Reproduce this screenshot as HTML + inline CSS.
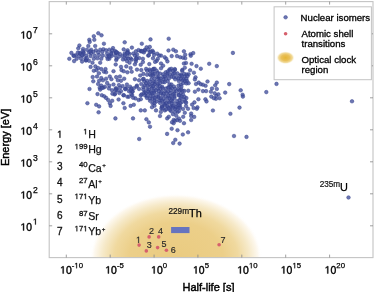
<!DOCTYPE html>
<html><head><meta charset="utf-8"><style>
html,body{margin:0;padding:0;background:#fff;width:375px;height:292px;overflow:hidden}
svg{display:block;font-family:"Liberation Sans",sans-serif;filter:blur(0.45px)}
.tl{font-size:10.8px;fill:#000;stroke:#000;stroke-width:0.38px}
.sup{font-size:7.8px;fill:#000;stroke:#000;stroke-width:0.25px}
.lt{font-size:10.4px;fill:#111;stroke:#111;stroke-width:0.3px}
.lc{font-size:6.2px;fill:#111;stroke:#111;stroke-width:0.25px}
.le{font-size:10.6px;fill:#111;stroke:#111;stroke-width:0.25px}
.ls{font-size:8.2px;fill:#111;stroke:#111;stroke-width:0.2px}
.ms{font-size:8.2px;fill:#111;stroke:#111;stroke-width:0.2px}
.mt{font-size:10.9px;fill:#000;stroke:#000;stroke-width:0.25px}
.rn{font-size:9px;fill:#333}
.lg{font-size:9.65px;fill:#000;stroke:#000;stroke-width:0.3px}
.ax{font-size:11px;fill:#000;stroke:#000;stroke-width:0.45px}
</style></head><body>
<svg width="375" height="292" viewBox="0 0 375 292">
<defs>
<radialGradient id="yg" cx="176" cy="257.6" r="1" gradientUnits="userSpaceOnUse" gradientTransform="translate(176 257.6) scale(86 64) translate(-176 -257.6)">
<stop offset="0" stop-color="#eacb80"/><stop offset="0.55" stop-color="#eccf89"/><stop offset="0.72" stop-color="#f0d99f"/><stop offset="0.85" stop-color="#f6e9c8"/><stop offset="0.95" stop-color="#fdf8ee"/><stop offset="1" stop-color="#fff" stop-opacity="0"/>
</radialGradient>
<radialGradient id="lgy"><stop offset="0" stop-color="#e5b536"/><stop offset="0.45" stop-color="#e9c05a"/><stop offset="0.75" stop-color="#f2dc9e"/><stop offset="1" stop-color="#fff" stop-opacity="0"/></radialGradient>
<clipPath id="pc"><rect x="49.2" y="1.6" width="323.8" height="256.0"/></clipPath>
</defs>
<g clip-path="url(#pc)"><ellipse cx="176" cy="257.6" rx="86" ry="64" fill="url(#yg)"/></g>
<rect x="171.1" y="227" width="18.4" height="6.1" fill="#6674bf"/>
<g fill="#44519e" fill-opacity="0.78" stroke="#333f8c" stroke-opacity="0.8" stroke-width="0.6"><circle cx="193.2" cy="53.1" r="1.8"/><circle cx="190.5" cy="54.2" r="1.8"/><circle cx="185.2" cy="54.7" r="1.8"/><circle cx="232.9" cy="52.9" r="1.8"/><circle cx="185.2" cy="58.2" r="1.8"/><circle cx="190.8" cy="55.8" r="1.8"/><circle cx="186" cy="63" r="1.8"/><circle cx="191.6" cy="63.8" r="1.8"/><circle cx="209.2" cy="63.8" r="1.8"/><circle cx="229.2" cy="84.1" r="1.8"/><circle cx="225.2" cy="92.6" r="1.8"/><circle cx="216.4" cy="95.8" r="1.8"/><circle cx="219.6" cy="98.2" r="1.8"/><circle cx="240.7" cy="90.3" r="1.8"/><circle cx="266.3" cy="92.1" r="1.8"/><circle cx="276.5" cy="83.9" r="1.8"/><circle cx="242.6" cy="94.8" r="1.8"/><circle cx="242.9" cy="96.6" r="1.8"/><circle cx="239.5" cy="107.6" r="1.8"/><circle cx="352" cy="101.3" r="1.8"/><circle cx="246.5" cy="136.9" r="1.8"/><circle cx="230.4" cy="113.8" r="1.8"/><circle cx="215.9" cy="98.8" r="1.8"/><circle cx="234" cy="136" r="1.8"/><circle cx="188.1" cy="132.3" r="1.8"/><circle cx="182.8" cy="134.5" r="1.8"/><circle cx="177.5" cy="130.2" r="1.8"/><circle cx="171.7" cy="128.7" r="1.8"/><circle cx="175.3" cy="139.8" r="1.8"/><circle cx="173.2" cy="143" r="1.8"/><circle cx="179.6" cy="143.6" r="1.8"/><circle cx="150" cy="126.7" r="1.8"/><circle cx="139.2" cy="139" r="1.8"/><circle cx="167.1" cy="133.9" r="1.8"/><circle cx="348.5" cy="197.5" r="1.8"/><circle cx="98.3" cy="33.2" r="1.8"/><circle cx="101.5" cy="35.3" r="1.8"/><circle cx="93.8" cy="36.2" r="1.8"/><circle cx="94.3" cy="39.8" r="1.8"/><circle cx="89.3" cy="39.8" r="1.8"/><circle cx="89.7" cy="41.9" r="1.8"/><circle cx="103.9" cy="43.7" r="1.8"/><circle cx="79.4" cy="45.5" r="1.8"/><circle cx="88.3" cy="46" r="1.8"/><circle cx="95.2" cy="46" r="1.8"/><circle cx="78.3" cy="48.3" r="1.8"/><circle cx="83.1" cy="49" r="1.8"/><circle cx="86.9" cy="49.7" r="1.8"/><circle cx="91.1" cy="49.7" r="1.8"/><circle cx="95.9" cy="50.3" r="1.8"/><circle cx="100.2" cy="49.7" r="1.8"/><circle cx="103.4" cy="49.2" r="1.8"/><circle cx="71.4" cy="52.9" r="1.8"/><circle cx="79.9" cy="52.9" r="1.8"/><circle cx="83.7" cy="52.4" r="1.8"/><circle cx="89" cy="52.4" r="1.8"/><circle cx="93.3" cy="51.9" r="1.8"/><circle cx="98.1" cy="52.4" r="1.8"/><circle cx="102.3" cy="51.9" r="1.8"/><circle cx="73.5" cy="55.6" r="1.8"/><circle cx="78.9" cy="56.1" r="1.8"/><circle cx="82.6" cy="55.6" r="1.8"/><circle cx="86.3" cy="55.6" r="1.8"/><circle cx="90.6" cy="56.1" r="1.8"/><circle cx="94.9" cy="55.6" r="1.8"/><circle cx="99.1" cy="55.1" r="1.8"/><circle cx="102.9" cy="55.6" r="1.8"/><circle cx="69.3" cy="58.8" r="1.8"/><circle cx="76.7" cy="58.8" r="1.8"/><circle cx="81" cy="58.6" r="1.8"/><circle cx="85.3" cy="58.8" r="1.8"/><circle cx="93.8" cy="58.8" r="1.8"/><circle cx="97.5" cy="58.3" r="1.8"/><circle cx="101.3" cy="58.8" r="1.8"/><circle cx="124.7" cy="42.3" r="1.8"/><circle cx="141.8" cy="43.7" r="1.8"/><circle cx="113" cy="48.1" r="1.8"/><circle cx="131.9" cy="47.6" r="1.8"/><circle cx="123.7" cy="49.4" r="1.8"/><circle cx="127.6" cy="50.3" r="1.8"/><circle cx="106.1" cy="50.3" r="1.8"/><circle cx="109.3" cy="49.7" r="1.8"/><circle cx="135.9" cy="51.3" r="1.8"/><circle cx="140.7" cy="51.3" r="1.8"/><circle cx="143.9" cy="52.4" r="1.8"/><circle cx="107.1" cy="53.5" r="1.8"/><circle cx="111.4" cy="52.9" r="1.8"/><circle cx="115.7" cy="52.4" r="1.8"/><circle cx="119.9" cy="54" r="1.8"/><circle cx="124.7" cy="53.5" r="1.8"/><circle cx="129.5" cy="54" r="1.8"/><circle cx="133.3" cy="53.5" r="1.8"/><circle cx="137" cy="54.5" r="1.8"/><circle cx="107.1" cy="56.7" r="1.8"/><circle cx="111.4" cy="56.1" r="1.8"/><circle cx="115.1" cy="55.6" r="1.8"/><circle cx="118.9" cy="56.7" r="1.8"/><circle cx="122.6" cy="56.1" r="1.8"/><circle cx="126.9" cy="56.7" r="1.8"/><circle cx="130.6" cy="58.3" r="1.8"/><circle cx="134.9" cy="55.6" r="1.8"/><circle cx="142.9" cy="58.8" r="1.8"/><circle cx="109.3" cy="58.8" r="1.8"/><circle cx="116.7" cy="58.8" r="1.8"/><circle cx="125.3" cy="58.8" r="1.8"/><circle cx="128.5" cy="58.8" r="1.8"/><circle cx="150.5" cy="39.4" r="1.8"/><circle cx="168.7" cy="38.7" r="1.8"/><circle cx="146.6" cy="47.3" r="1.8"/><circle cx="149.8" cy="46.9" r="1.8"/><circle cx="148.2" cy="49.7" r="1.8"/><circle cx="152.5" cy="50.8" r="1.8"/><circle cx="149.8" cy="52.4" r="1.8"/><circle cx="153.5" cy="52.4" r="1.8"/><circle cx="157.3" cy="53.7" r="1.8"/><circle cx="168.5" cy="50.5" r="1.8"/><circle cx="173.3" cy="49.7" r="1.8"/><circle cx="175.9" cy="51.3" r="1.8"/><circle cx="183.9" cy="51.3" r="1.8"/><circle cx="148.2" cy="55.6" r="1.8"/><circle cx="153" cy="58.3" r="1.8"/><circle cx="161" cy="55.6" r="1.8"/><circle cx="164.7" cy="57.2" r="1.8"/><circle cx="166.3" cy="58.8" r="1.8"/><circle cx="171.7" cy="56.1" r="1.8"/><circle cx="177" cy="56.1" r="1.8"/><circle cx="180.2" cy="57.2" r="1.8"/><circle cx="182.9" cy="57.7" r="1.8"/><circle cx="157.8" cy="58.8" r="1.8"/><circle cx="74.1" cy="61.1" r="1.8"/><circle cx="82.1" cy="61.6" r="1.8"/><circle cx="85.8" cy="60.5" r="1.8"/><circle cx="92.5" cy="62.7" r="1.8"/><circle cx="100.2" cy="62.7" r="1.8"/><circle cx="90.6" cy="66.9" r="1.8"/><circle cx="95.4" cy="66.4" r="1.8"/><circle cx="98.1" cy="68" r="1.8"/><circle cx="101.3" cy="69.1" r="1.8"/><circle cx="93.8" cy="70.7" r="1.8"/><circle cx="96.5" cy="70.1" r="1.8"/><circle cx="103.9" cy="71.7" r="1.8"/><circle cx="98.9" cy="73.3" r="1.8"/><circle cx="92.7" cy="77.1" r="1.8"/><circle cx="97" cy="76.5" r="1.8"/><circle cx="101.3" cy="78.1" r="1.8"/><circle cx="93.3" cy="81.3" r="1.8"/><circle cx="99.1" cy="80.8" r="1.8"/><circle cx="102.9" cy="80.3" r="1.8"/><circle cx="98.1" cy="84" r="1.8"/><circle cx="101.3" cy="85.6" r="1.8"/><circle cx="99.7" cy="87.7" r="1.8"/><circle cx="103.4" cy="87.7" r="1.8"/><circle cx="89.5" cy="89" r="1.8"/><circle cx="115.7" cy="64.5" r="1.8"/><circle cx="105.5" cy="69.1" r="1.8"/><circle cx="106.1" cy="72.3" r="1.8"/><circle cx="113.5" cy="71.2" r="1.8"/><circle cx="121" cy="66.9" r="1.8"/><circle cx="121.5" cy="70.1" r="1.8"/><circle cx="126.9" cy="61.1" r="1.8"/><circle cx="129.5" cy="62.7" r="1.8"/><circle cx="126.3" cy="66.4" r="1.8"/><circle cx="130.6" cy="68" r="1.8"/><circle cx="134.9" cy="64.3" r="1.8"/><circle cx="135.9" cy="61.6" r="1.8"/><circle cx="140.7" cy="64.8" r="1.8"/><circle cx="142.9" cy="62.1" r="1.8"/><circle cx="131.7" cy="71.7" r="1.8"/><circle cx="137" cy="69.6" r="1.8"/><circle cx="141.3" cy="70.1" r="1.8"/><circle cx="123.7" cy="71.2" r="1.8"/><circle cx="127.4" cy="72.3" r="1.8"/><circle cx="109.8" cy="76.5" r="1.8"/><circle cx="106.1" cy="78.7" r="1.8"/><circle cx="111.4" cy="79.2" r="1.8"/><circle cx="116.2" cy="77.1" r="1.8"/><circle cx="119.9" cy="76.5" r="1.8"/><circle cx="124.2" cy="78.7" r="1.8"/><circle cx="117.8" cy="80.3" r="1.8"/><circle cx="121" cy="80.8" r="1.8"/><circle cx="134.9" cy="79.2" r="1.8"/><circle cx="140.2" cy="75.5" r="1.8"/><circle cx="143.4" cy="73.9" r="1.8"/><circle cx="139.1" cy="80.3" r="1.8"/><circle cx="142.9" cy="79.2" r="1.8"/><circle cx="107.1" cy="82.9" r="1.8"/><circle cx="109.3" cy="85.6" r="1.8"/><circle cx="113.5" cy="84.5" r="1.8"/><circle cx="118.9" cy="85.1" r="1.8"/><circle cx="122.6" cy="86.1" r="1.8"/><circle cx="126.9" cy="84.5" r="1.8"/><circle cx="130.1" cy="86.7" r="1.8"/><circle cx="115.7" cy="88.3" r="1.8"/><circle cx="125.3" cy="88.8" r="1.8"/><circle cx="133.8" cy="88.3" r="1.8"/><circle cx="137" cy="85.6" r="1.8"/><circle cx="141.3" cy="84" r="1.8"/><circle cx="143.4" cy="87.2" r="1.8"/><circle cx="105" cy="86.7" r="1.8"/><circle cx="154.1" cy="55" r="1.8"/><circle cx="156.7" cy="60.9" r="1.8"/><circle cx="167.4" cy="61.4" r="1.8"/><circle cx="149.3" cy="64.1" r="1.8"/><circle cx="155.1" cy="61.9" r="1.8"/><circle cx="161" cy="63.5" r="1.8"/><circle cx="163.1" cy="65.7" r="1.8"/><circle cx="146.1" cy="68.9" r="1.8"/><circle cx="153.5" cy="68.9" r="1.8"/><circle cx="161" cy="68.3" r="1.8"/><circle cx="169.5" cy="69.4" r="1.8"/><circle cx="174.9" cy="69.9" r="1.8"/><circle cx="182.3" cy="69.9" r="1.8"/><circle cx="183.9" cy="63.5" r="1.8"/><circle cx="146.4" cy="119.2" r="1.8"/><circle cx="148.8" cy="122.4" r="1.8"/><circle cx="160" cy="116" r="1.8"/><circle cx="167.2" cy="118.4" r="1.8"/><circle cx="168.8" cy="116.8" r="1.8"/><circle cx="173.6" cy="120" r="1.8"/><circle cx="180" cy="120.8" r="1.8"/><circle cx="183.2" cy="116.8" r="1.8"/><circle cx="173.6" cy="123.2" r="1.8"/><circle cx="140.8" cy="110.4" r="1.8"/><circle cx="144.8" cy="110.4" r="1.8"/><circle cx="152" cy="107.2" r="1.8"/><circle cx="156" cy="110.4" r="1.8"/><circle cx="160.8" cy="112" r="1.8"/><circle cx="164.8" cy="110.4" r="1.8"/><circle cx="171.2" cy="111.2" r="1.8"/><circle cx="177.6" cy="112" r="1.8"/><circle cx="184.8" cy="112.8" r="1.8"/><circle cx="191.2" cy="113.6" r="1.8"/><circle cx="188" cy="108.8" r="1.8"/><circle cx="193.6" cy="108" r="1.8"/><circle cx="196.8" cy="108.8" r="1.8"/><circle cx="194.4" cy="102.4" r="1.8"/><circle cx="198.4" cy="99.2" r="1.8"/><circle cx="191.2" cy="116" r="1.8"/><circle cx="191.2" cy="120" r="1.8"/><circle cx="184" cy="123.2" r="1.8"/><circle cx="140.8" cy="99.2" r="1.8"/><circle cx="141.6" cy="94.4" r="1.8"/><circle cx="196" cy="84" r="1.8"/><circle cx="198.4" cy="89.6" r="1.8"/><circle cx="100.2" cy="89.6" r="1.8"/><circle cx="101.8" cy="88" r="1.8"/><circle cx="109" cy="88.5" r="1.8"/><circle cx="97.5" cy="94.1" r="1.8"/><circle cx="101.8" cy="95.2" r="1.8"/><circle cx="104.2" cy="96.3" r="1.8"/><circle cx="106.1" cy="97.9" r="1.8"/><circle cx="108.2" cy="100" r="1.8"/><circle cx="112.2" cy="100.8" r="1.8"/><circle cx="109.8" cy="103.2" r="1.8"/><circle cx="110.6" cy="105.9" r="1.8"/><circle cx="87.4" cy="103.2" r="1.8"/><circle cx="96.2" cy="104.8" r="1.8"/><circle cx="99.1" cy="106.4" r="1.8"/><circle cx="98.6" cy="112.3" r="1.8"/><circle cx="115.4" cy="118.4" r="1.8"/><circle cx="133" cy="118.4" r="1.8"/><circle cx="118.6" cy="99.5" r="1.8"/><circle cx="123.4" cy="103.2" r="1.8"/><circle cx="124.7" cy="108" r="1.8"/><circle cx="130.6" cy="105.9" r="1.8"/><circle cx="133.8" cy="104.8" r="1.8"/><circle cx="127.4" cy="96.8" r="1.8"/><circle cx="132.2" cy="95.2" r="1.8"/><circle cx="138.6" cy="100" r="1.8"/><circle cx="135.4" cy="98.4" r="1.8"/><circle cx="114.6" cy="94.4" r="1.8"/><circle cx="117" cy="90.4" r="1.8"/><circle cx="123.4" cy="95.2" r="1.8"/><circle cx="121" cy="91.2" r="1.8"/><circle cx="129" cy="91.2" r="1.8"/><circle cx="184.8" cy="67.7" r="1.8"/><circle cx="190.1" cy="70.3" r="1.8"/><circle cx="196.5" cy="66.1" r="1.8"/><circle cx="200.8" cy="68.7" r="1.8"/><circle cx="216.8" cy="66.1" r="1.8"/><circle cx="193.9" cy="72.7" r="1.8"/><circle cx="195.5" cy="77.3" r="1.8"/><circle cx="194.9" cy="79.4" r="1.8"/><circle cx="198.7" cy="82.6" r="1.8"/><circle cx="200.8" cy="84.2" r="1.8"/><circle cx="202.9" cy="84.7" r="1.8"/><circle cx="205.6" cy="85.8" r="1.8"/><circle cx="207.5" cy="81.5" r="1.8"/><circle cx="216.8" cy="82.6" r="1.8"/><circle cx="215.2" cy="85.3" r="1.8"/><circle cx="212" cy="88.5" r="1.8"/><circle cx="216.8" cy="89" r="1.8"/><circle cx="202.9" cy="91.1" r="1.8"/><circle cx="206.1" cy="91.1" r="1.8"/><circle cx="210.9" cy="91.7" r="1.8"/><circle cx="214.7" cy="93.3" r="1.8"/><circle cx="194.9" cy="91.7" r="1.8"/><circle cx="218.4" cy="94.3" r="1.8"/><circle cx="172" cy="122.2" r="1.8"/><circle cx="175.2" cy="120.6" r="1.8"/><circle cx="173" cy="114.2" r="1.8"/><circle cx="176.3" cy="115.8" r="1.8"/><circle cx="178.9" cy="118.5" r="1.8"/><circle cx="205.4" cy="99.3" r="1.8"/><circle cx="206.5" cy="101.4" r="1.8"/><circle cx="211.3" cy="96.6" r="1.8"/><circle cx="213.9" cy="98.2" r="1.8"/><circle cx="192.1" cy="104.6" r="1.8"/><circle cx="197.4" cy="107.3" r="1.8"/><circle cx="194.2" cy="116.9" r="1.8"/><circle cx="212.9" cy="110.5" r="1.8"/><circle cx="177.1" cy="120.1" r="1.8"/><circle cx="168" cy="107" r="1.8"/><circle cx="172" cy="106" r="1.8"/><circle cx="176" cy="108" r="1.8"/><circle cx="180" cy="106" r="1.8"/><circle cx="170" cy="110" r="1.8"/><circle cx="175" cy="112" r="1.8"/><circle cx="179" cy="111" r="1.8"/><circle cx="183" cy="109" r="1.8"/><circle cx="165" cy="104" r="1.8"/><circle cx="162" cy="106.5" r="1.8"/><circle cx="186" cy="106" r="1.8"/><circle cx="149.5" cy="69.6" r="1.8"/><circle cx="152.8" cy="69.6" r="1.8"/><circle cx="154.7" cy="68.8" r="1.8"/><circle cx="171.3" cy="68.8" r="1.8"/><circle cx="174.8" cy="69.1" r="1.8"/><circle cx="147.1" cy="70.8" r="1.8"/><circle cx="150.1" cy="71.2" r="1.8"/><circle cx="152.8" cy="72.1" r="1.8"/><circle cx="156.7" cy="70.8" r="1.8"/><circle cx="165.7" cy="72.3" r="1.8"/><circle cx="167.9" cy="71.4" r="1.8"/><circle cx="170.0" cy="70.7" r="1.8"/><circle cx="173.3" cy="71.0" r="1.8"/><circle cx="182.2" cy="70.8" r="1.8"/><circle cx="147.1" cy="74.8" r="1.8"/><circle cx="150.0" cy="74.5" r="1.8"/><circle cx="152.8" cy="74.3" r="1.8"/><circle cx="154.6" cy="73.9" r="1.8"/><circle cx="157.7" cy="73.1" r="1.8"/><circle cx="160.0" cy="73.5" r="1.8"/><circle cx="163.2" cy="74.3" r="1.8"/><circle cx="167.3" cy="73.8" r="1.8"/><circle cx="170.1" cy="74.8" r="1.8"/><circle cx="173.0" cy="73.7" r="1.8"/><circle cx="174.5" cy="73.4" r="1.8"/><circle cx="177.4" cy="73.4" r="1.8"/><circle cx="181.0" cy="74.6" r="1.8"/><circle cx="184.2" cy="73.9" r="1.8"/><circle cx="186.7" cy="74.5" r="1.8"/><circle cx="188.6" cy="74.2" r="1.8"/><circle cx="151.2" cy="75.8" r="1.8"/><circle cx="153.0" cy="75.8" r="1.8"/><circle cx="157.3" cy="76.9" r="1.8"/><circle cx="158.7" cy="77.0" r="1.8"/><circle cx="163.1" cy="76.7" r="1.8"/><circle cx="164.8" cy="76.5" r="1.8"/><circle cx="167.3" cy="75.5" r="1.8"/><circle cx="171.6" cy="76.7" r="1.8"/><circle cx="173.7" cy="77.2" r="1.8"/><circle cx="176.4" cy="77.1" r="1.8"/><circle cx="179.9" cy="75.9" r="1.8"/><circle cx="181.7" cy="76.0" r="1.8"/><circle cx="184.6" cy="76.6" r="1.8"/><circle cx="187.4" cy="76.3" r="1.8"/><circle cx="143.7" cy="78.9" r="1.8"/><circle cx="151.4" cy="79.4" r="1.8"/><circle cx="154.5" cy="78.8" r="1.8"/><circle cx="158.4" cy="79.0" r="1.8"/><circle cx="160.5" cy="78.9" r="1.8"/><circle cx="163.7" cy="79.4" r="1.8"/><circle cx="165.8" cy="79.0" r="1.8"/><circle cx="168.9" cy="78.5" r="1.8"/><circle cx="175.2" cy="79.3" r="1.8"/><circle cx="178.6" cy="78.8" r="1.8"/><circle cx="181.0" cy="78.9" r="1.8"/><circle cx="183.6" cy="79.2" r="1.8"/><circle cx="186.4" cy="78.9" r="1.8"/><circle cx="144.4" cy="81.3" r="1.8"/><circle cx="147.2" cy="80.9" r="1.8"/><circle cx="150.1" cy="81.7" r="1.8"/><circle cx="154.2" cy="82.1" r="1.8"/><circle cx="155.9" cy="81.7" r="1.8"/><circle cx="159.7" cy="80.7" r="1.8"/><circle cx="162.9" cy="82.2" r="1.8"/><circle cx="164.6" cy="82.2" r="1.8"/><circle cx="167.7" cy="81.3" r="1.8"/><circle cx="178.8" cy="81.0" r="1.8"/><circle cx="182.6" cy="80.5" r="1.8"/><circle cx="185.1" cy="81.2" r="1.8"/><circle cx="187.0" cy="81.1" r="1.8"/><circle cx="146.1" cy="83.2" r="1.8"/><circle cx="149.3" cy="84.6" r="1.8"/><circle cx="152.8" cy="83.4" r="1.8"/><circle cx="154.5" cy="84.6" r="1.8"/><circle cx="158.1" cy="84.2" r="1.8"/><circle cx="160.1" cy="83.0" r="1.8"/><circle cx="169.6" cy="84.4" r="1.8"/><circle cx="171.5" cy="84.5" r="1.8"/><circle cx="180.8" cy="84.6" r="1.8"/><circle cx="183.2" cy="83.2" r="1.8"/><circle cx="186.5" cy="83.4" r="1.8"/><circle cx="188.6" cy="83.2" r="1.8"/><circle cx="144.8" cy="85.4" r="1.8"/><circle cx="147.5" cy="85.4" r="1.8"/><circle cx="151.2" cy="86.4" r="1.8"/><circle cx="153.1" cy="86.3" r="1.8"/><circle cx="157.3" cy="85.6" r="1.8"/><circle cx="159.9" cy="86.2" r="1.8"/><circle cx="162.2" cy="86.9" r="1.8"/><circle cx="168.3" cy="87.2" r="1.8"/><circle cx="170.5" cy="86.9" r="1.8"/><circle cx="174.0" cy="86.6" r="1.8"/><circle cx="178.5" cy="85.6" r="1.8"/><circle cx="181.4" cy="86.7" r="1.8"/><circle cx="143.3" cy="89.6" r="1.8"/><circle cx="147.4" cy="88.9" r="1.8"/><circle cx="148.9" cy="89.6" r="1.8"/><circle cx="151.9" cy="88.5" r="1.8"/><circle cx="154.2" cy="88.6" r="1.8"/><circle cx="157.9" cy="88.8" r="1.8"/><circle cx="160.3" cy="88.8" r="1.8"/><circle cx="162.8" cy="88.4" r="1.8"/><circle cx="165.8" cy="88.6" r="1.8"/><circle cx="168.5" cy="87.9" r="1.8"/><circle cx="171.8" cy="88.3" r="1.8"/><circle cx="175.2" cy="88.8" r="1.8"/><circle cx="178.4" cy="89.1" r="1.8"/><circle cx="181.1" cy="89.5" r="1.8"/><circle cx="145.1" cy="91.9" r="1.8"/><circle cx="148.5" cy="91.9" r="1.8"/><circle cx="151.0" cy="92.0" r="1.8"/><circle cx="154.0" cy="91.6" r="1.8"/><circle cx="156.0" cy="90.4" r="1.8"/><circle cx="158.7" cy="91.0" r="1.8"/><circle cx="161.5" cy="91.9" r="1.8"/><circle cx="165.2" cy="91.5" r="1.8"/><circle cx="168.2" cy="91.6" r="1.8"/><circle cx="170.8" cy="90.4" r="1.8"/><circle cx="174.2" cy="91.7" r="1.8"/><circle cx="176.5" cy="91.3" r="1.8"/><circle cx="179.6" cy="90.5" r="1.8"/><circle cx="182.6" cy="90.8" r="1.8"/><circle cx="184.3" cy="90.9" r="1.8"/><circle cx="188.3" cy="90.7" r="1.8"/><circle cx="144.0" cy="93.0" r="1.8"/><circle cx="145.9" cy="93.3" r="1.8"/><circle cx="149.8" cy="93.4" r="1.8"/><circle cx="152.4" cy="92.9" r="1.8"/><circle cx="154.3" cy="93.3" r="1.8"/><circle cx="158.3" cy="94.1" r="1.8"/><circle cx="161.1" cy="93.4" r="1.8"/><circle cx="163.7" cy="93.7" r="1.8"/><circle cx="166.4" cy="93.1" r="1.8"/><circle cx="170.1" cy="93.2" r="1.8"/><circle cx="173.1" cy="94.5" r="1.8"/><circle cx="174.2" cy="93.7" r="1.8"/><circle cx="178.5" cy="94.6" r="1.8"/><circle cx="180.7" cy="93.3" r="1.8"/><circle cx="183.1" cy="94.6" r="1.8"/><circle cx="145.1" cy="95.4" r="1.8"/><circle cx="147.1" cy="96.2" r="1.8"/><circle cx="150.7" cy="95.9" r="1.8"/><circle cx="153.0" cy="96.0" r="1.8"/><circle cx="156.2" cy="96.8" r="1.8"/><circle cx="158.5" cy="96.7" r="1.8"/><circle cx="162.8" cy="95.5" r="1.8"/><circle cx="165.8" cy="96.6" r="1.8"/><circle cx="168.6" cy="95.9" r="1.8"/><circle cx="170.5" cy="96.0" r="1.8"/><circle cx="174.5" cy="96.4" r="1.8"/><circle cx="178.9" cy="95.4" r="1.8"/><circle cx="181.5" cy="96.8" r="1.8"/><circle cx="184.6" cy="97.0" r="1.8"/><circle cx="146.9" cy="97.9" r="1.8"/><circle cx="149.8" cy="98.6" r="1.8"/><circle cx="152.7" cy="99.0" r="1.8"/><circle cx="154.7" cy="97.9" r="1.8"/><circle cx="158.7" cy="98.0" r="1.8"/><circle cx="160.7" cy="98.4" r="1.8"/><circle cx="163.3" cy="99.1" r="1.8"/><circle cx="167.4" cy="98.3" r="1.8"/><circle cx="169.6" cy="98.4" r="1.8"/><circle cx="172.3" cy="98.5" r="1.8"/><circle cx="174.5" cy="98.1" r="1.8"/><circle cx="180.7" cy="98.2" r="1.8"/><circle cx="184.3" cy="99.6" r="1.8"/><circle cx="186.4" cy="98.1" r="1.8"/><circle cx="150.0" cy="100.8" r="1.8"/><circle cx="154.5" cy="100.5" r="1.8"/><circle cx="156.5" cy="101.4" r="1.8"/><circle cx="160.0" cy="100.7" r="1.8"/><circle cx="161.8" cy="100.7" r="1.8"/><circle cx="164.9" cy="101.1" r="1.8"/><circle cx="168.7" cy="101.8" r="1.8"/><circle cx="171.4" cy="100.3" r="1.8"/><circle cx="172.8" cy="101.6" r="1.8"/><circle cx="177.2" cy="101.1" r="1.8"/><circle cx="179.5" cy="100.3" r="1.8"/><circle cx="182.0" cy="102.0" r="1.8"/><circle cx="185.6" cy="101.8" r="1.8"/><circle cx="152.5" cy="103.3" r="1.8"/><circle cx="154.4" cy="103.2" r="1.8"/><circle cx="160.1" cy="102.9" r="1.8"/><circle cx="163.7" cy="103.8" r="1.8"/><circle cx="166.3" cy="103.2" r="1.8"/><circle cx="169.5" cy="102.8" r="1.8"/><circle cx="171.8" cy="103.6" r="1.8"/><circle cx="175.9" cy="103.9" r="1.8"/><circle cx="178.6" cy="103.6" r="1.8"/><circle cx="180.3" cy="103.2" r="1.8"/><circle cx="186.1" cy="102.8" r="1.8"/><circle cx="154.5" cy="105.8" r="1.8"/><circle cx="161.9" cy="107.0" r="1.8"/><circle cx="165.1" cy="105.6" r="1.8"/><circle cx="167.4" cy="106.0" r="1.8"/><circle cx="171.1" cy="107.0" r="1.8"/><circle cx="173.0" cy="106.0" r="1.8"/><circle cx="176.0" cy="107.0" r="1.8"/><circle cx="178.7" cy="105.3" r="1.8"/><circle cx="161.4" cy="108.5" r="1.8"/><circle cx="162.8" cy="108.6" r="1.8"/><circle cx="166.3" cy="109.4" r="1.8"/><circle cx="168.8" cy="108.4" r="1.8"/><circle cx="172.9" cy="107.8" r="1.8"/><circle cx="174.9" cy="109.2" r="1.8"/><circle cx="178.4" cy="107.8" r="1.8"/><circle cx="179.9" cy="107.8" r="1.8"/><circle cx="144.6" cy="50.1" r="1.8"/><circle cx="141.2" cy="50.9" r="1.8"/><circle cx="107.6" cy="59.0" r="1.8"/><circle cx="145.0" cy="50.4" r="1.8"/><circle cx="91.2" cy="53.2" r="1.8"/><circle cx="117.6" cy="53.0" r="1.8"/><circle cx="82.8" cy="51.2" r="1.8"/><circle cx="135.8" cy="59.7" r="1.8"/><circle cx="75.6" cy="55.3" r="1.8"/><circle cx="124.8" cy="55.2" r="1.8"/><circle cx="127.2" cy="52.0" r="1.8"/><circle cx="109.0" cy="55.6" r="1.8"/><circle cx="109.5" cy="56.6" r="1.8"/><circle cx="111.3" cy="53.7" r="1.8"/><circle cx="74.1" cy="56.0" r="1.8"/><circle cx="115.1" cy="51.1" r="1.8"/><circle cx="139.2" cy="58.1" r="1.8"/><circle cx="112.3" cy="50.3" r="1.8"/><circle cx="83.3" cy="53.6" r="1.8"/><circle cx="80.1" cy="53.7" r="1.8"/><circle cx="136.5" cy="58.1" r="1.8"/><circle cx="116.3" cy="52.9" r="1.8"/><circle cx="136.4" cy="58.6" r="1.8"/><circle cx="89.0" cy="60.8" r="1.8"/><circle cx="77.8" cy="52.6" r="1.8"/><circle cx="138.5" cy="50.1" r="1.8"/><circle cx="150.9" cy="51.6" r="1.8"/><circle cx="116.2" cy="60.0" r="1.8"/><circle cx="90.3" cy="51.4" r="1.8"/><circle cx="116.5" cy="52.1" r="1.8"/><circle cx="86.2" cy="60.2" r="1.8"/><circle cx="131.8" cy="59.6" r="1.8"/><circle cx="86.8" cy="58.2" r="1.8"/><circle cx="82.1" cy="54.9" r="1.8"/><circle cx="128.0" cy="52.7" r="1.8"/><circle cx="148.8" cy="55.2" r="1.8"/><circle cx="123.0" cy="59.5" r="1.8"/><circle cx="127.4" cy="53.1" r="1.8"/><circle cx="142.2" cy="51.4" r="1.8"/><circle cx="159.2" cy="55.5" r="1.8"/><circle cx="123.9" cy="95.2" r="1.8"/><circle cx="126.6" cy="88.1" r="1.8"/><circle cx="136.5" cy="86.6" r="1.8"/><circle cx="139.1" cy="89.0" r="1.8"/><circle cx="133.1" cy="97.8" r="1.8"/><circle cx="131.3" cy="94.0" r="1.8"/><circle cx="132.3" cy="91.2" r="1.8"/><circle cx="128.9" cy="96.7" r="1.8"/><circle cx="116.4" cy="88.7" r="1.8"/><circle cx="112.1" cy="90.3" r="1.8"/><circle cx="115.5" cy="90.3" r="1.8"/><circle cx="119.4" cy="93.0" r="1.8"/><circle cx="131.4" cy="88.5" r="1.8"/><circle cx="132.6" cy="91.7" r="1.8"/><circle cx="120.0" cy="87.8" r="1.8"/><circle cx="115.2" cy="93.7" r="1.8"/><circle cx="140.8" cy="95.4" r="1.8"/><circle cx="125.3" cy="89.2" r="1.8"/><circle cx="112.4" cy="93.7" r="1.8"/><circle cx="130.6" cy="90.2" r="1.8"/></g>
<g fill="#d6606c"><circle cx="139.1" cy="245.1" r="1.8"/><circle cx="149.1" cy="236.9" r="1.8"/><circle cx="146.3" cy="250.9" r="1.8"/><circle cx="158.7" cy="236.9" r="1.8"/><circle cx="157.6" cy="247.6" r="1.8"/><circle cx="166.4" cy="250.3" r="1.8"/><circle cx="219.1" cy="244.8" r="1.8"/></g>
<rect x="49.2" y="1.6" width="323.8" height="256.0" fill="none" stroke="#c4c4c4" stroke-width="1.1"/>
<g stroke="#888" stroke-width="0.8"><line x1="66.3" y1="257.6" x2="66.3" y2="254.60000000000002"/><line x1="66.3" y1="1.6" x2="66.3" y2="4.6"/><line x1="110.2" y1="257.6" x2="110.2" y2="254.60000000000002"/><line x1="110.2" y1="1.6" x2="110.2" y2="4.6"/><line x1="154.1" y1="257.6" x2="154.1" y2="254.60000000000002"/><line x1="154.1" y1="1.6" x2="154.1" y2="4.6"/><line x1="197.9" y1="257.6" x2="197.9" y2="254.60000000000002"/><line x1="197.9" y1="1.6" x2="197.9" y2="4.6"/><line x1="241.8" y1="257.6" x2="241.8" y2="254.60000000000002"/><line x1="241.8" y1="1.6" x2="241.8" y2="4.6"/><line x1="285.7" y1="257.6" x2="285.7" y2="254.60000000000002"/><line x1="285.7" y1="1.6" x2="285.7" y2="4.6"/><line x1="329.6" y1="257.6" x2="329.6" y2="254.60000000000002"/><line x1="329.6" y1="1.6" x2="329.6" y2="4.6"/><line x1="49.2" y1="33.8" x2="52.2" y2="33.8"/><line x1="373" y1="33.8" x2="370" y2="33.8"/><line x1="49.2" y1="65.8" x2="52.2" y2="65.8"/><line x1="373" y1="65.8" x2="370" y2="65.8"/><line x1="49.2" y1="97.8" x2="52.2" y2="97.8"/><line x1="373" y1="97.8" x2="370" y2="97.8"/><line x1="49.2" y1="129.8" x2="52.2" y2="129.8"/><line x1="373" y1="129.8" x2="370" y2="129.8"/><line x1="49.2" y1="161.8" x2="52.2" y2="161.8"/><line x1="373" y1="161.8" x2="370" y2="161.8"/><line x1="49.2" y1="193.8" x2="52.2" y2="193.8"/><line x1="373" y1="193.8" x2="370" y2="193.8"/><line x1="49.2" y1="225.8" x2="52.2" y2="225.8"/><line x1="373" y1="225.8" x2="370" y2="225.8"/></g>
<text x="26.27" y="38.5" font-size="10.3" fill="#000" stroke="#000" stroke-width="0.38">0</text><path d="M23.13 38.50 L23.13 32.28 L21.53 33.42 L21.53 32.57 L23.21 31.41 L24.04 31.41 L24.04 38.50Z" fill="#000" stroke="#000" stroke-width="0.38"/><text x="32.90" y="32.6" font-size="8.6" fill="#000" stroke="#000" stroke-width="0.25">7</text><text x="26.27" y="70.5" font-size="10.3" fill="#000" stroke="#000" stroke-width="0.38">0</text><path d="M23.13 70.50 L23.13 64.28 L21.53 65.42 L21.53 64.57 L23.21 63.41 L24.04 63.41 L24.04 70.50Z" fill="#000" stroke="#000" stroke-width="0.38"/><text x="32.90" y="64.6" font-size="8.6" fill="#000" stroke="#000" stroke-width="0.25">6</text><text x="26.27" y="102.5" font-size="10.3" fill="#000" stroke="#000" stroke-width="0.38">0</text><path d="M23.13 102.50 L23.13 96.28 L21.53 97.42 L21.53 96.57 L23.21 95.41 L24.04 95.41 L24.04 102.50Z" fill="#000" stroke="#000" stroke-width="0.38"/><text x="32.90" y="96.6" font-size="8.6" fill="#000" stroke="#000" stroke-width="0.25">5</text><text x="26.27" y="134.5" font-size="10.3" fill="#000" stroke="#000" stroke-width="0.38">0</text><path d="M23.13 134.50 L23.13 128.28 L21.53 129.42 L21.53 128.57 L23.21 127.41 L24.04 127.41 L24.04 134.50Z" fill="#000" stroke="#000" stroke-width="0.38"/><text x="32.90" y="128.6" font-size="8.6" fill="#000" stroke="#000" stroke-width="0.25">4</text><text x="26.27" y="166.5" font-size="10.3" fill="#000" stroke="#000" stroke-width="0.38">0</text><path d="M23.13 166.50 L23.13 160.28 L21.53 161.42 L21.53 160.57 L23.21 159.41 L24.04 159.41 L24.04 166.50Z" fill="#000" stroke="#000" stroke-width="0.38"/><text x="32.90" y="160.6" font-size="8.6" fill="#000" stroke="#000" stroke-width="0.25">3</text><text x="26.27" y="198.5" font-size="10.3" fill="#000" stroke="#000" stroke-width="0.38">0</text><path d="M23.13 198.50 L23.13 192.28 L21.53 193.42 L21.53 192.57 L23.21 191.41 L24.04 191.41 L24.04 198.50Z" fill="#000" stroke="#000" stroke-width="0.38"/><text x="32.90" y="192.6" font-size="8.6" fill="#000" stroke="#000" stroke-width="0.25">2</text><text x="26.27" y="230.5" font-size="10.3" fill="#000" stroke="#000" stroke-width="0.38">0</text><path d="M23.13 230.50 L23.13 224.28 L21.53 225.42 L21.53 224.57 L23.21 223.41 L24.04 223.41 L24.04 230.50Z" fill="#000" stroke="#000" stroke-width="0.38"/><path d="M35.06 224.60 L35.06 219.41 L33.73 220.36 L33.73 219.64 L35.13 218.68 L35.82 218.68 L35.82 224.60Z" fill="#000" stroke="#000" stroke-width="0.25"/><text x="65.88" y="273.5" font-size="10.4" fill="#000" stroke="#000" stroke-width="0.4">0</text><path d="M62.72 273.50 L62.72 267.22 L61.10 268.37 L61.10 267.51 L62.79 266.34 L63.63 266.34 L63.63 273.50Z" fill="#000" stroke="#000" stroke-width="0.4"/><text x="71.77" y="268.3" font-size="7.8" fill="#000" stroke="#000" stroke-width="0.25">-</text><text x="78.70" y="268.3" font-size="7.8" fill="#000" stroke="#000" stroke-width="0.25">0</text><path d="M76.33 268.30 L76.33 263.59 L75.12 264.45 L75.12 263.81 L76.38 262.93 L77.02 262.93 L77.02 268.30Z" fill="#000" stroke="#000" stroke-width="0.25"/><text x="111.08" y="273.5" font-size="10.4" fill="#000" stroke="#000" stroke-width="0.4">0</text><path d="M107.92 273.50 L107.92 267.22 L106.30 268.37 L106.30 267.51 L107.99 266.34 L108.83 266.34 L108.83 273.50Z" fill="#000" stroke="#000" stroke-width="0.4"/><text x="116.97" y="268.3" font-size="7.8" fill="#000" stroke="#000" stroke-width="0.25">-5</text><text x="156.88" y="273.5" font-size="10.4" fill="#000" stroke="#000" stroke-width="0.4">0</text><path d="M153.72 273.50 L153.72 267.22 L152.10 268.37 L152.10 267.51 L153.79 266.34 L154.63 266.34 L154.63 273.50Z" fill="#000" stroke="#000" stroke-width="0.4"/><text x="162.77" y="268.3" font-size="7.8" fill="#000" stroke="#000" stroke-width="0.25">0</text><text x="198.78" y="273.5" font-size="10.4" fill="#000" stroke="#000" stroke-width="0.4">0</text><path d="M195.62 273.50 L195.62 267.22 L194.00 268.37 L194.00 267.51 L195.69 266.34 L196.53 266.34 L196.53 273.50Z" fill="#000" stroke="#000" stroke-width="0.4"/><text x="204.67" y="268.3" font-size="7.8" fill="#000" stroke="#000" stroke-width="0.25">5</text><text x="243.08" y="273.5" font-size="10.4" fill="#000" stroke="#000" stroke-width="0.4">0</text><path d="M239.92 273.50 L239.92 267.22 L238.30 268.37 L238.30 267.51 L239.99 266.34 L240.83 266.34 L240.83 273.50Z" fill="#000" stroke="#000" stroke-width="0.4"/><text x="253.31" y="268.3" font-size="7.8" fill="#000" stroke="#000" stroke-width="0.25">0</text><path d="M250.93 268.30 L250.93 263.59 L249.72 264.45 L249.72 263.81 L250.99 262.93 L251.62 262.93 L251.62 268.30Z" fill="#000" stroke="#000" stroke-width="0.25"/><text x="286.58" y="273.5" font-size="10.4" fill="#000" stroke="#000" stroke-width="0.4">0</text><path d="M283.42 273.50 L283.42 267.22 L281.80 268.37 L281.80 267.51 L283.49 266.34 L284.33 266.34 L284.33 273.50Z" fill="#000" stroke="#000" stroke-width="0.4"/><text x="296.81" y="268.3" font-size="7.8" fill="#000" stroke="#000" stroke-width="0.25">5</text><path d="M294.43 268.30 L294.43 263.59 L293.22 264.45 L293.22 263.81 L294.49 262.93 L295.12 262.93 L295.12 268.30Z" fill="#000" stroke="#000" stroke-width="0.25"/><text x="330.48" y="273.5" font-size="10.4" fill="#000" stroke="#000" stroke-width="0.4">0</text><path d="M327.32 273.50 L327.32 267.22 L325.70 268.37 L325.70 267.51 L327.39 266.34 L328.23 266.34 L328.23 273.50Z" fill="#000" stroke="#000" stroke-width="0.4"/><text x="336.37" y="268.3" font-size="7.8" fill="#000" stroke="#000" stroke-width="0.25">20</text><path d="M59.51 137.70 L59.51 131.66 L57.96 132.77 L57.96 131.94 L59.59 130.82 L60.40 130.82 L60.40 137.70Z" fill="#111" stroke="#111" stroke-width="0.32"/><path d="M85.22 134.30 L85.22 129.59 L84.01 130.45 L84.01 129.81 L85.28 128.93 L85.91 128.93 L85.91 134.30Z" fill="#111" stroke="#111" stroke-width="0.3"/><text x="88.2" y="137.7" class="le">H<tspan class="lc" dx="0.6" dy="-4.4"></tspan></text><text x="57.00" y="153.2" font-size="10.0" fill="#111" stroke="#111" stroke-width="0.32">2</text><text x="78.92" y="149.3" font-size="7.8" fill="#111" stroke="#111" stroke-width="0.3">99</text><path d="M76.55 149.30 L76.55 144.59 L75.34 145.45 L75.34 144.81 L76.60 143.93 L77.24 143.93 L77.24 149.30Z" fill="#111" stroke="#111" stroke-width="0.3"/><text x="88.2" y="152.9" class="le">Hg<tspan class="lc" dx="0.6" dy="-4.4"></tspan></text><text x="57.00" y="170.2" font-size="10.0" fill="#111" stroke="#111" stroke-width="0.32">3</text><text x="78.92" y="167.1" font-size="7.8" fill="#111" stroke="#111" stroke-width="0.3">40</text><text x="88.2" y="171.5" class="le">Ca<tspan class="lc" dx="0.6" dy="-4.4">+</tspan></text><text x="57.00" y="186.4" font-size="10.0" fill="#111" stroke="#111" stroke-width="0.32">4</text><text x="78.92" y="183.1" font-size="7.8" fill="#111" stroke="#111" stroke-width="0.3">27</text><text x="88.2" y="187.7" class="le">Al<tspan class="lc" dx="0.6" dy="-4.4">+</tspan></text><text x="57.00" y="202.6" font-size="10.0" fill="#111" stroke="#111" stroke-width="0.32">5</text><text x="78.92" y="199.1" font-size="7.8" fill="#111" stroke="#111" stroke-width="0.3">7</text><path d="M76.55 199.10 L76.55 194.39 L75.34 195.25 L75.34 194.61 L76.60 193.73 L77.24 193.73 L77.24 199.10ZM85.22 199.10 L85.22 194.39 L84.01 195.25 L84.01 194.61 L85.28 193.73 L85.91 193.73 L85.91 199.10Z" fill="#111" stroke="#111" stroke-width="0.3"/><text x="88.2" y="203.8" class="le">Yb<tspan class="lc" dx="0.6" dy="-4.4"></tspan></text><text x="57.00" y="219.1" font-size="10.0" fill="#111" stroke="#111" stroke-width="0.32">6</text><text x="78.92" y="215.9" font-size="7.8" fill="#111" stroke="#111" stroke-width="0.3">87</text><text x="88.2" y="220.2" class="le">Sr<tspan class="lc" dx="0.6" dy="-4.4"></tspan></text><text x="57.00" y="234.9" font-size="10.0" fill="#111" stroke="#111" stroke-width="0.32">7</text><text x="78.92" y="231.3" font-size="7.8" fill="#111" stroke="#111" stroke-width="0.3">7</text><path d="M76.55 231.30 L76.55 226.59 L75.34 227.45 L75.34 226.81 L76.60 225.93 L77.24 225.93 L77.24 231.30ZM85.22 231.30 L85.22 226.59 L84.01 227.45 L84.01 226.81 L85.28 225.93 L85.91 225.93 L85.91 231.30Z" fill="#111" stroke="#111" stroke-width="0.3"/><text x="88.2" y="235.3" class="le">Yb<tspan class="lc" dx="0.6" dy="-4.4">+</tspan></text><path d="M138.26 243.00 L138.26 237.56 L136.87 238.56 L136.87 237.81 L138.33 236.81 L139.06 236.81 L139.06 243.00Z" fill="#2a2a2a" stroke="#2a2a2a" stroke-width="0.15"/><text x="149.10" y="233.9" font-size="9" fill="#2a2a2a" stroke="#2a2a2a" stroke-width="0.15">2</text><text x="158.00" y="233.9" font-size="9" fill="#2a2a2a" stroke="#2a2a2a" stroke-width="0.15">4</text><text x="146.70" y="248.2" font-size="9" fill="#2a2a2a" stroke="#2a2a2a" stroke-width="0.15">3</text><text x="161.60" y="246.9" font-size="9" fill="#2a2a2a" stroke="#2a2a2a" stroke-width="0.15">5</text><text x="170.70" y="252.8" font-size="9" fill="#2a2a2a" stroke="#2a2a2a" stroke-width="0.15">6</text><text x="220.50" y="243.1" font-size="9" fill="#2a2a2a" stroke="#2a2a2a" stroke-width="0.15">7</text>
<text x="168.5" y="213.6" class="ms">229m</text><text x="189.0" y="217.3" class="mt">Th</text>
<text x="319.7" y="187" class="ms">235m</text><text x="339.9" y="191.2" class="mt">U</text>
<text transform="translate(8.9 166.1) rotate(-90)" class="ax">Energy [eV]</text>
<text x="182.5" y="290.5" class="ax">Half-life [s]</text>
<rect x="274.1" y="6.8" width="97.3" height="72.9" fill="#fff" stroke="#c4c4c4" stroke-width="1"/>
<circle cx="285.6" cy="17.3" r="1.8" fill="#44519e" fill-opacity="0.78" stroke="#333f8c" stroke-opacity="0.8" stroke-width="0.6"/>
<circle cx="285.6" cy="33.8" r="1.8" fill="#d6606c"/>
<ellipse cx="285.5" cy="57.7" rx="9.3" ry="6.6" fill="url(#lgy)"/>
<text x="300.6" y="21.1" class="lg">Nuclear isomers</text>
<text x="301.5" y="36.6" class="lg">Atomic shell</text>
<text x="301.5" y="47.0" class="lg">transitions</text>
<text x="301.5" y="62.6" class="lg">Optical clock</text>
<text x="301.5" y="73.0" class="lg">region</text>
</svg>
</body></html>
